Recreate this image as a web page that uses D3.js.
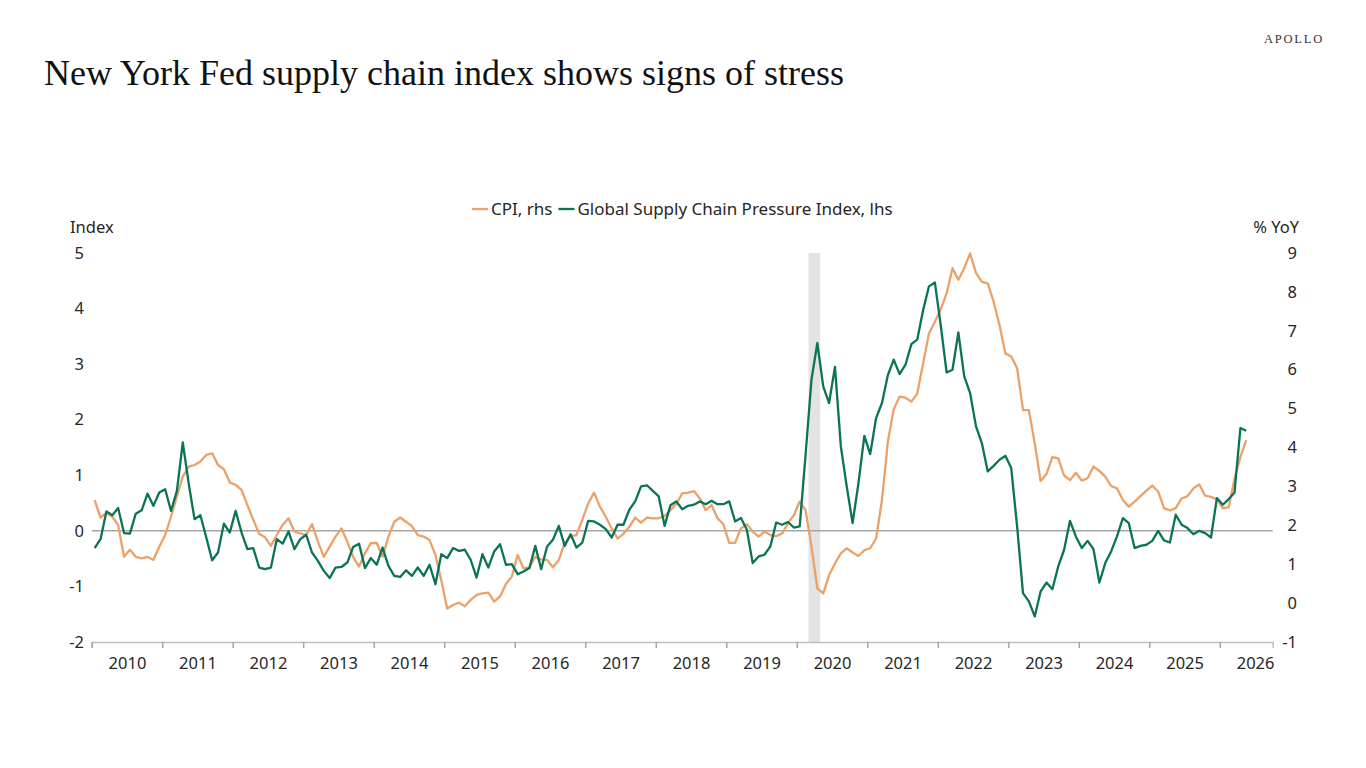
<!DOCTYPE html>
<html>
<head>
<meta charset="utf-8">
<script src="https://cdn.jsdelivr.net/npm/d3@7"></script>
<style>
  body { margin: 0; background: #fff; }
  svg { display: block; }
  text { font-family: "Noto Sans", "Open Sans", sans-serif; fill: #262626; }
</style>
</head>
<body>
<svg id="chart" width="1366" height="768"></svg>
<script>
// monthly data, Jan 2010 .. May 2026
var firstMonth = "2010-01";
var lastAxisMonth = "2026-09";
var yearLabels = ["2010","2011","2012","2013","2014","2015","2016","2017","2018","2019","2020","2021","2022","2023","2024","2025","2026"];
var recessionMonths = ["2020-03", "2020-04"];

// Global Supply Chain Pressure Index, lhs
var gscpi = [
  -0.31, -0.15, 0.35, 0.28, 0.41, -0.04, -0.05, 0.31, 0.37, 0.67, 0.45, 0.69,
  0.75, 0.36, 0.72, 1.59, 0.86, 0.21, 0.28, -0.12, -0.53, -0.39, 0.13, -0.03,
  0.36, -0.03, -0.33, -0.31, -0.66, -0.69, -0.66, -0.15, -0.23, -0.01, -0.33, -0.15,
  -0.07, -0.39, -0.54, -0.72, -0.85, -0.66, -0.65, -0.57, -0.29, -0.23, -0.67, -0.49,
  -0.61, -0.30, -0.63, -0.81, -0.83, -0.71, -0.81, -0.66, -0.81, -0.61, -0.96, -0.42,
  -0.49, -0.31, -0.36, -0.34, -0.52, -0.84, -0.42, -0.66, -0.37, -0.24, -0.61, -0.60,
  -0.78, -0.73, -0.67, -0.27, -0.69, -0.28, -0.16, 0.09, -0.27, -0.06, -0.30, -0.21,
  0.18, 0.17, 0.11, 0.03, -0.12, 0.11, 0.11, 0.38, 0.53, 0.80, 0.82, 0.72,
  0.62, 0.09, 0.46, 0.53, 0.39, 0.45, 0.47, 0.53, 0.48, 0.54, 0.48, 0.48,
  0.53, 0.17, 0.23, 0.02, -0.58, -0.46, -0.43, -0.28, 0.15, 0.11, 0.16, 0.06,
  0.08, 1.37, 2.72, 3.38, 2.60, 2.30, 2.95, 1.52, 0.80, 0.14, 0.86, 1.71,
  1.38, 2.03, 2.30, 2.80, 3.08, 2.82, 2.99, 3.36, 3.44, 3.97, 4.40, 4.47,
  3.70, 2.85, 2.90, 3.57, 2.78, 2.48, 1.88, 1.58, 1.07, 1.17, 1.28, 1.35,
  1.13, 0.08, -1.12, -1.27, -1.54, -1.09, -0.93, -1.05, -0.64, -0.34, 0.18, -0.10,
  -0.31, -0.18, -0.33, -0.93, -0.58, -0.37, -0.10, 0.23, 0.14, -0.31, -0.27, -0.25,
  -0.18, 0.00, -0.17, -0.21, 0.29, 0.11, 0.05, -0.06, 0.00, -0.04, -0.12, 0.59,
  0.47, 0.57, 0.69, 1.85, 1.80
];

// CPI % YoY, rhs
var cpi = [
  2.65, 2.20, 2.32, 2.22, 2.01, 1.19, 1.37, 1.19, 1.15, 1.19, 1.11, 1.45,
  1.75, 2.22, 2.74, 3.25, 3.51, 3.55, 3.64, 3.81, 3.85, 3.55, 3.44, 3.10,
  3.04, 2.91, 2.52, 2.14, 1.78, 1.69, 1.47, 1.75, 2.01, 2.18, 1.84, 1.79,
  1.75, 2.03, 1.58, 1.19, 1.45, 1.71, 1.92, 1.58, 1.19, 0.94, 1.28, 1.54,
  1.55, 1.19, 1.71, 2.09, 2.20, 2.09, 1.98, 1.75, 1.71, 1.62, 1.24, 0.59,
  -0.14, -0.05, 0.01, -0.08, 0.08, 0.21, 0.25, 0.27, 0.04, 0.17, 0.49, 0.68,
  1.24, 0.89, 0.92, 1.19, 1.12, 1.11, 0.92, 1.11, 1.54, 1.72, 1.75, 2.14,
  2.56, 2.84, 2.48, 2.22, 1.92, 1.66, 1.78, 1.96, 2.20, 2.07, 2.20, 2.18,
  2.18, 2.24, 2.39, 2.55, 2.82, 2.84, 2.88, 2.69, 2.39, 2.52, 2.18, 2.03,
  1.55, 1.55, 1.92, 2.03, 1.84, 1.71, 1.84, 1.75, 1.72, 1.79, 2.05, 2.26,
  2.61, 2.39, 1.45, 0.38, 0.25, 0.72, 1.02, 1.28, 1.41, 1.30, 1.21, 1.36,
  1.41, 1.66, 2.65, 4.15, 4.98, 5.31, 5.28, 5.18, 5.38, 6.16, 6.93, 7.23,
  7.55, 7.96, 8.61, 8.31, 8.61, 8.99, 8.49, 8.26, 8.22, 7.75, 7.15, 6.42,
  6.34, 6.04, 4.96, 4.96, 4.11, 3.14, 3.32, 3.75, 3.72, 3.28, 3.16, 3.35,
  3.15, 3.21, 3.51, 3.40, 3.25, 3.01, 2.95, 2.65, 2.48, 2.61, 2.75, 2.89,
  3.02, 2.87, 2.44, 2.38, 2.44, 2.69, 2.75, 2.95, 3.05, 2.76, 2.73, 2.67,
  2.44, 2.46, 3.20, 3.76, 4.19
];

var leftTicks = [-2, -1, 0, 1, 2, 3, 4, 5];
var rightTicks = [-1, 0, 1, 2, 3, 4, 5, 6, 7, 8, 9];

var orange = "#EAA269", green = "#0B7356";

function monthIndex(s) {
  var p = s.split("-");
  var f = firstMonth.split("-");
  return (+p[0] - +f[0]) * 12 + (+p[1] - +f[1]);
}

(function() {
  var svg = d3.select("#chart");
  var plotLeft = 91.7, plotRight = 1272.7, plotTop = 253, plotBottom = 642;
  var nCats = monthIndex(lastAxisMonth) + 1;

  var x = d3.scaleLinear().domain([0, nCats]).range([plotLeft, plotRight]);
  var yL = d3.scaleLinear().domain([-2, 5]).range([plotBottom, plotTop]);
  var yR = d3.scaleLinear().domain([-1, 9]).range([plotBottom, plotTop]);

  // plain hyphen for negatives, like the source
  var fmt = function(d) { return String(d); };

  // header
  svg.append("text")
    .attr("x", 44).attr("y", 85)
    .style("font-family", "'Liberation Serif', 'DejaVu Serif', serif")
    .style("font-size", "36px")
    .style("fill", "#111")
    .text("New York Fed supply chain index shows signs of stress");

  svg.append("text")
    .attr("x", 1324).attr("y", 43)
    .attr("text-anchor", "end")
    .style("font-family", "'Liberation Serif', serif")
    .style("font-size", "12.5px")
    .style("letter-spacing", "1.8px")
    .style("fill", "#333")
    .text("APOLLO");

  // recession shading
  var r0 = monthIndex(recessionMonths[0]);
  var r1 = monthIndex(recessionMonths[recessionMonths.length - 1]) + 1;
  svg.append("rect")
    .attr("x", x(r0)).attr("width", x(r1) - x(r0))
    .attr("y", plotTop).attr("height", plotBottom - plotTop)
    .attr("fill", "#e3e3e3");

  // zero line
  svg.append("line")
    .attr("x1", plotLeft).attr("x2", plotRight)
    .attr("y1", yL(0)).attr("y2", yL(0))
    .attr("stroke", "#a6a6a6").attr("stroke-width", 1.5);

  // x axis: ticks at year boundaries, labels mid-year
  var boundaries = yearLabels.map(function(d, i) { return i * 12; });
  var xAxis = svg.append("g")
    .attr("transform", "translate(0," + plotBottom + ")")
    .call(d3.axisBottom(x).tickValues(boundaries).tickSize(6).tickFormat(""));
  xAxis.select(".domain").attr("stroke", "#bfbfbf").attr("stroke-width", 1.5);
  xAxis.selectAll(".tick line").attr("stroke", "#a6a6a6").attr("stroke-width", 1.5);

  var mids = yearLabels.map(function(d, i) { return i * 12 + 6; });
  var xLab = svg.append("g")
    .attr("transform", "translate(0," + plotBottom + ")")
    .call(d3.axisBottom(x).tickValues(mids).tickSize(0).tickPadding(15)
      .tickFormat(function(d, i) { return yearLabels[i]; }));
  xLab.select(".domain").remove();
  xLab.selectAll("text").style("font-size", "16.5px").style("fill", "#262626")
    .style("font-family", "'Noto Sans', sans-serif");

  // y axes, both with right-aligned labels
  var yAxL = svg.append("g")
    .attr("transform", "translate(86,0)")
    .call(d3.axisLeft(yL).tickValues(leftTicks).tickSize(0).tickPadding(2).tickFormat(fmt));
  yAxL.select(".domain").remove();
  yAxL.selectAll("text").style("font-size", "16.5px").style("fill", "#262626")
    .style("font-family", "'Noto Sans', sans-serif");

  var yAxR = svg.append("g")
    .attr("transform", "translate(1299,0)")
    .call(d3.axisLeft(yR).tickValues(rightTicks).tickSize(0).tickPadding(2).tickFormat(fmt));
  yAxR.select(".domain").remove();
  yAxR.selectAll("text").style("font-size", "16.5px").style("fill", "#262626")
    .style("font-family", "'Noto Sans', sans-serif");

  svg.append("text").attr("x", 70).attr("y", 233)
    .style("font-size", "16.5px").text("Index");
  svg.append("text").attr("x", 1299).attr("y", 233).attr("text-anchor", "end")
    .style("font-size", "16.5px").text("% YoY");

  // lines
  var lineL = d3.line().x(function(d, i) { return x(i + 0.5); }).y(function(d) { return yL(d); });
  var lineR = d3.line().x(function(d, i) { return x(i + 0.5); }).y(function(d) { return yR(d); });

  svg.append("path").datum(cpi)
    .attr("d", lineR).attr("fill", "none")
    .attr("stroke", orange).attr("stroke-width", 2.3).attr("stroke-linejoin", "round");
  svg.append("path").datum(gscpi)
    .attr("d", lineL).attr("fill", "none")
    .attr("stroke", green).attr("stroke-width", 2.3).attr("stroke-linejoin", "round");

  // legend
  var legend = [
    { label: "CPI, rhs", color: orange },
    { label: "Global Supply Chain Pressure Index, lhs", color: green }
  ];
  var lg = svg.append("g").attr("transform", "translate(0,209)");
  var lx = 472;
  legend.forEach(function(d) {
    lg.append("line").attr("x1", lx).attr("x2", lx + 16).attr("y1", 0).attr("y2", 0)
      .attr("stroke", d.color).attr("stroke-width", 2.3);
    var t = lg.append("text").attr("x", lx + 19).attr("y", 6)
      .style("font-size", "17px").text(d.label);
    lx = lx + 19 + t.node().getComputedTextLength() + 6;
  });
})();
</script>
</body>
</html>
